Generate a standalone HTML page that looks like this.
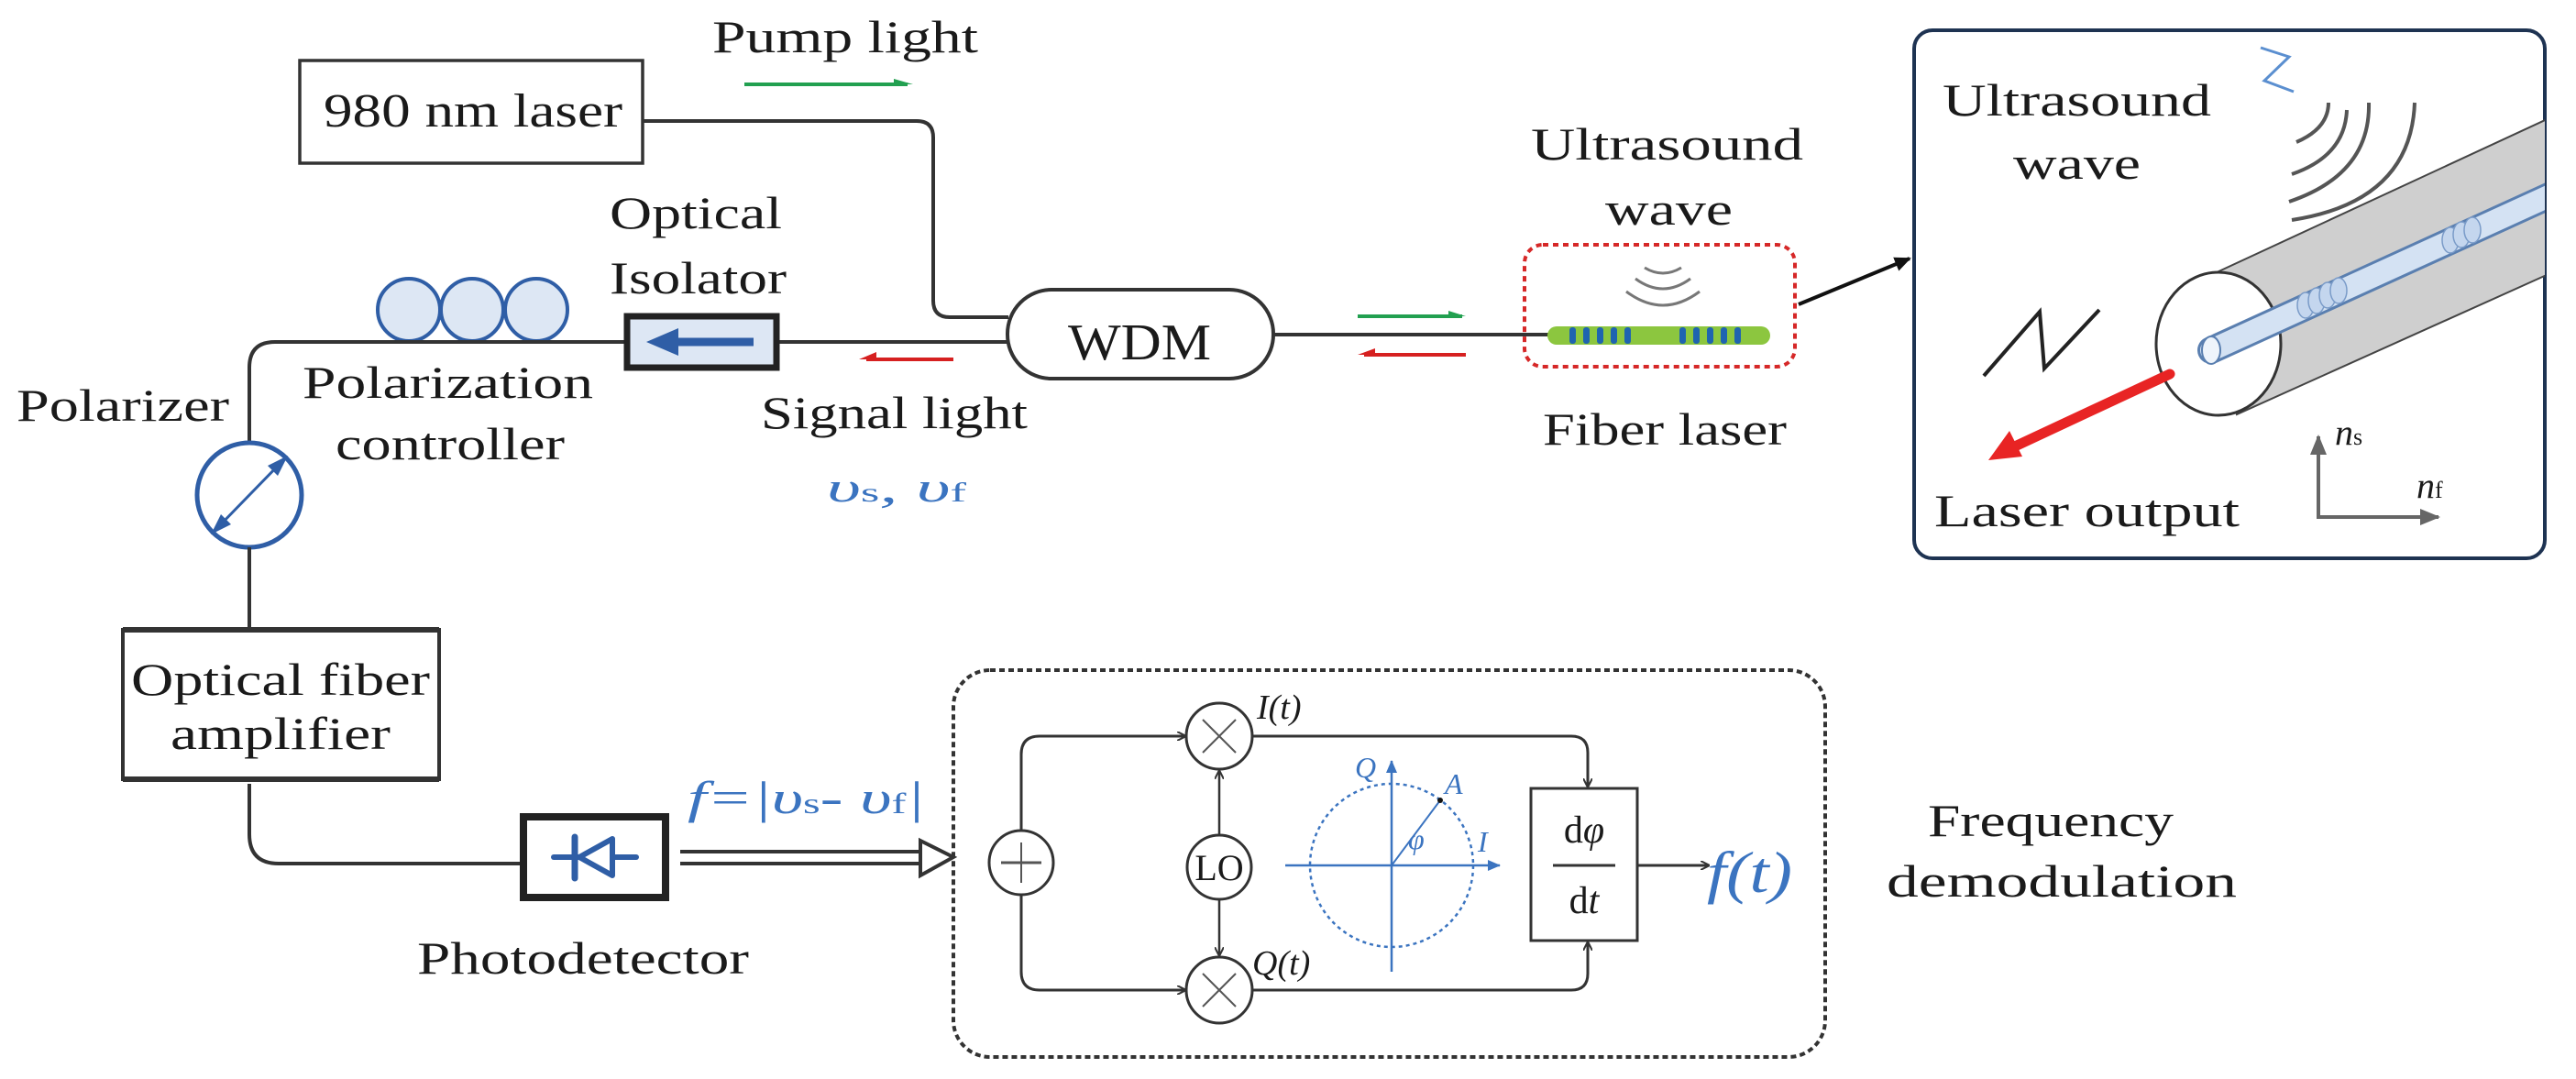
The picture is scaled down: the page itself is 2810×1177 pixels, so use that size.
<!DOCTYPE html>
<html><head><meta charset="utf-8"><style>
html,body{margin:0;padding:0;background:#fff}
svg{display:block}
text{font-family:"Liberation Serif",serif;fill:#1a1a1a}
.b{fill:#3b74c0}
</style></head><body>
<svg width="2810" height="1177" viewBox="0 0 2810 1177" xmlns="http://www.w3.org/2000/svg">
<defs>
<marker id="ah" markerWidth="10" markerHeight="10" refX="9" refY="5" orient="auto" markerUnits="userSpaceOnUse"><path d="M0,0 L10,5 L0,10" fill="none" stroke="#333" stroke-width="2"/></marker>
<marker id="ahk" markerWidth="18" markerHeight="16" refX="16" refY="8" orient="auto" markerUnits="userSpaceOnUse"><path d="M0,0 L18,8 L0,16 Z" fill="#111"/></marker>
<marker id="ahg" markerWidth="22" markerHeight="18" refX="20" refY="9" orient="auto" markerUnits="userSpaceOnUse"><path d="M0,0 L22,9 L0,18 Z" fill="#666"/></marker>
<marker id="ahb" markerWidth="14" markerHeight="12" refX="13" refY="6" orient="auto" markerUnits="userSpaceOnUse"><path d="M0,0 L14,6 L0,12 Z" fill="#3b74c0"/></marker>
<clipPath id="pc"><rect x="2088" y="33" width="688" height="576" rx="20"/></clipPath>
</defs>

<!-- top texts -->
<text x="777" y="57" font-size="50" textLength="290" lengthAdjust="spacingAndGlyphs">Pump light</text>
<line x1="812" y1="92" x2="990" y2="92" stroke="#22a050" stroke-width="4"/>
<path d="M975,86 L996,92 L975,92Z" fill="#22a050"/>

<rect x="327" y="66" width="374" height="112" fill="#fff" stroke="#333" stroke-width="3.5"/>
<text x="353" y="138" font-size="52" textLength="326" lengthAdjust="spacingAndGlyphs">980 nm laser</text>

<path d="M701,132 L1000,132 Q1018,132 1018,150 L1018,328 Q1018,346 1036,346 L1100,346" fill="none" stroke="#333" stroke-width="4"/>

<!-- WDM -->
<rect x="1099" y="316" width="290" height="97" rx="48" fill="#fff" stroke="#333" stroke-width="4"/>
<text x="1165" y="392" font-size="56" textLength="156" lengthAdjust="spacingAndGlyphs">WDM</text>

<!-- line WDM to isolator and on -->
<line x1="848" y1="373" x2="1099" y2="373" stroke="#333" stroke-width="4"/>
<path d="M683,373 L300,373 Q272,373 272,401 L272,483" fill="none" stroke="#333" stroke-width="4"/>

<!-- polarization controller -->
<g fill="#dde7f4" stroke="#2f5ea6" stroke-width="4">
<circle cx="446" cy="338" r="34"/><circle cx="515" cy="338" r="34"/><circle cx="585" cy="338" r="34"/>
</g>
<line x1="400" y1="373" x2="683" y2="373" stroke="#333" stroke-width="4"/>

<!-- isolator -->
<rect x="684" y="345" width="163" height="56" fill="#dde7f4" stroke="#222" stroke-width="7"/>
<line x1="822" y1="373" x2="735" y2="373" stroke="#2f5ea6" stroke-width="9"/>
<path d="M705,373 L740,358 L740,388Z" fill="#2f5ea6"/>

<text x="665" y="249" font-size="50" textLength="188" lengthAdjust="spacingAndGlyphs">Optical</text>
<text x="665" y="320" font-size="50" textLength="193" lengthAdjust="spacingAndGlyphs">Isolator</text>
<text x="330" y="434" font-size="50" textLength="317" lengthAdjust="spacingAndGlyphs">Polarization</text>
<text x="366" y="501" font-size="50" textLength="250" lengthAdjust="spacingAndGlyphs">controller</text>
<text x="18" y="459" font-size="50" textLength="232" lengthAdjust="spacingAndGlyphs">Polarizer</text>
<text x="830" y="467" font-size="50" textLength="291" lengthAdjust="spacingAndGlyphs">Signal light</text>

<line x1="945" y1="392" x2="1040" y2="392" stroke="#d62020" stroke-width="4"/>
<path d="M937,392 L956,384 L956,392Z" fill="#d62020"/>

<text x="902" y="547" font-size="46" font-style="italic" class="b" textLength="152" lengthAdjust="spacingAndGlyphs">υ<tspan font-size="30" font-style="normal">s</tspan>,  υ<tspan font-size="30" font-style="normal">f</tspan></text>

<!-- polarizer -->
<circle cx="272" cy="540" r="57" fill="#fff" stroke="#2f5ea6" stroke-width="5"/>
<line x1="236" y1="577" x2="308" y2="503" stroke="#2f5ea6" stroke-width="3"/>
<path d="M314,497 L292,508 L303,519Z" fill="#2f5ea6"/>
<path d="M230,583 L241,561 L252,572Z" fill="#2f5ea6"/>
<line x1="272" y1="597" x2="272" y2="687" stroke="#333" stroke-width="4"/>

<!-- amplifier -->
<rect x="134" y="687" width="345" height="163" fill="#fff" stroke="#333" stroke-width="4"/>
<line x1="134" y1="687" x2="479" y2="687" stroke="#333" stroke-width="6"/>
<line x1="134" y1="850" x2="479" y2="850" stroke="#333" stroke-width="6"/>
<text x="143" y="758" font-size="50" textLength="326" lengthAdjust="spacingAndGlyphs">Optical fiber</text>
<text x="186" y="817" font-size="50" textLength="240" lengthAdjust="spacingAndGlyphs">amplifier</text>

<path d="M272,855 L272,910 Q272,942 304,942 L568,942" fill="none" stroke="#333" stroke-width="4"/>

<!-- photodetector -->
<rect x="571" y="891" width="155" height="88" fill="#fff" stroke="#222" stroke-width="8"/>
<line x1="604" y1="935" x2="694" y2="935" stroke="#2f5ea6" stroke-width="6" stroke-linecap="round"/>
<line x1="627" y1="913" x2="627" y2="958" stroke="#2f5ea6" stroke-width="7" stroke-linecap="round"/>
<path d="M632,935 L668,915 L668,955Z" fill="#fff" stroke="#2f5ea6" stroke-width="6" stroke-linejoin="round"/>
<text x="455" y="1062" font-size="50" textLength="362" lengthAdjust="spacingAndGlyphs">Photodetector</text>

<!-- double arrow -->
<line x1="742" y1="929" x2="1010" y2="929" stroke="#333" stroke-width="4"/>
<line x1="742" y1="942" x2="1010" y2="942" stroke="#333" stroke-width="4"/>
<path d="M1004,917 L1040,935 L1004,955Z" fill="#fff" stroke="#333" stroke-width="4"/>
<text x="750" y="887" font-size="50" class="b" font-style="italic" textLength="259" lengthAdjust="spacingAndGlyphs">f=|υ<tspan font-size="32" font-style="normal">s</tspan>- υ<tspan font-size="32" font-style="normal">f</tspan>|</text>

<!-- demod box -->
<rect x="1040" y="731" width="951" height="422" rx="40" fill="none" stroke="#333" stroke-width="4" stroke-dasharray="6,4"/>
<circle cx="1114" cy="941" r="35" fill="#fff" stroke="#333" stroke-width="3"/>
<line x1="1092" y1="941" x2="1136" y2="941" stroke="#555" stroke-width="3"/>
<line x1="1114" y1="919" x2="1114" y2="963" stroke="#555" stroke-width="2"/>
<path d="M1114,906 L1114,823 Q1114,803 1134,803 L1293,803" fill="none" stroke="#333" stroke-width="3" marker-end="url(#ah)"/>
<path d="M1114,976 L1114,1060 Q1114,1080 1134,1080 L1293,1080" fill="none" stroke="#333" stroke-width="3" marker-end="url(#ah)"/>
<g fill="#fff" stroke="#333" stroke-width="3">
<circle cx="1330" cy="803" r="36"/><circle cx="1330" cy="1080" r="36"/><circle cx="1330" cy="946" r="35"/>
</g>
<g stroke="#555" stroke-width="2"><line x1="1312" y1="785" x2="1348" y2="821"/><line x1="1348" y1="785" x2="1312" y2="821"/>
<line x1="1312" y1="1062" x2="1348" y2="1098"/><line x1="1348" y1="1062" x2="1312" y2="1098"/></g>
<text x="1330" y="960" font-size="40" text-anchor="middle">LO</text>
<line x1="1330" y1="911" x2="1330" y2="841" stroke="#333" stroke-width="2.5" marker-end="url(#ah)"/>
<line x1="1330" y1="981" x2="1330" y2="1042" stroke="#333" stroke-width="2.5" marker-end="url(#ah)"/>
<text x="1371" y="784" font-size="38" font-style="italic">I(t)</text>
<text x="1366" y="1063" font-size="38" font-style="italic">Q(t)</text>
<path d="M1366,803 L1714,803 Q1732,803 1732,821 L1732,858" fill="none" stroke="#333" stroke-width="3" marker-end="url(#ah)"/>
<path d="M1366,1080 L1714,1080 Q1732,1080 1732,1062 L1732,1028" fill="none" stroke="#333" stroke-width="3" marker-end="url(#ah)"/>
<!-- constellation -->
<circle cx="1518" cy="944" r="89" fill="none" stroke="#3b74c0" stroke-width="2.5" stroke-dasharray="4,4"/>
<line x1="1402" y1="944" x2="1636" y2="944" stroke="#3b74c0" stroke-width="2.5" marker-end="url(#ahb)"/>
<line x1="1518" y1="1060" x2="1518" y2="830" stroke="#3b74c0" stroke-width="2.5" marker-end="url(#ahb)"/>
<line x1="1518" y1="944" x2="1571" y2="873" stroke="#3b74c0" stroke-width="2"/>
<circle cx="1571" cy="873" r="3" fill="#111"/>
<text x="1478" y="848" font-size="32" font-style="italic" class="b">Q</text>
<text x="1576" y="866" font-size="32" font-style="italic" class="b">A</text>
<text x="1536" y="926" font-size="32" font-style="italic" class="b">φ</text>
<text x="1612" y="929" font-size="32" font-style="italic" class="b">I</text>
<rect x="1670" y="860" width="116" height="166" fill="#fff" stroke="#333" stroke-width="3"/>
<text x="1728" y="919" font-size="42" text-anchor="middle">d<tspan font-style="italic">φ</tspan></text>
<line x1="1694" y1="944" x2="1762" y2="944" stroke="#333" stroke-width="3"/>
<text x="1728" y="996" font-size="42" text-anchor="middle">d<tspan font-style="italic">t</tspan></text>
<line x1="1786" y1="944" x2="1864" y2="944" stroke="#333" stroke-width="3" marker-end="url(#ah)"/>
<text x="1862" y="973" font-size="64" class="b" font-style="italic" textLength="93" lengthAdjust="spacingAndGlyphs">f(t)</text>

<text x="2103" y="912" font-size="50" textLength="268" lengthAdjust="spacingAndGlyphs">Frequency</text>
<text x="2058" y="978" font-size="50" textLength="382" lengthAdjust="spacingAndGlyphs">demodulation</text>

<!-- WDM to fiber laser -->
<line x1="1389" y1="365" x2="1690" y2="365" stroke="#333" stroke-width="4"/>
<line x1="1481" y1="345" x2="1595" y2="345" stroke="#22a050" stroke-width="4"/>
<path d="M1580,339 L1599,345 L1580,345Z" fill="#22a050"/>
<line x1="1488" y1="387" x2="1599" y2="387" stroke="#d62020" stroke-width="4"/>
<path d="M1481,387 L1500,380 L1500,387Z" fill="#d62020"/>

<text x="1670" y="174" font-size="50" textLength="297" lengthAdjust="spacingAndGlyphs">Ultrasound</text>
<text x="1751" y="245" font-size="50" textLength="139" lengthAdjust="spacingAndGlyphs">wave</text>
<text x="1683" y="485" font-size="50" textLength="266" lengthAdjust="spacingAndGlyphs">Fiber laser</text>
<rect x="1663" y="267" width="295" height="133" rx="20" fill="none" stroke="#d62828" stroke-width="4" stroke-dasharray="6,5"/>
<g fill="none" stroke="#777" stroke-width="3">
<path d="M1794,292 Q1814,304 1834,292"/>
<path d="M1784,304 Q1814,326 1844,304"/>
<path d="M1774,318 Q1814,348 1854,318"/>
</g>
<rect x="1688" y="356" width="243" height="20" rx="10" fill="#8cc63f"/>
<g fill="#1f64b0">
<rect x="1712" y="357" width="7" height="18" rx="3"/><rect x="1727" y="357" width="7" height="18" rx="3"/><rect x="1742" y="357" width="7" height="18" rx="3"/><rect x="1757" y="357" width="7" height="18" rx="3"/><rect x="1772" y="357" width="7" height="18" rx="3"/>
<rect x="1832" y="357" width="7" height="18" rx="3"/><rect x="1847" y="357" width="7" height="18" rx="3"/><rect x="1862" y="357" width="7" height="18" rx="3"/><rect x="1877" y="357" width="7" height="18" rx="3"/><rect x="1892" y="357" width="7" height="18" rx="3"/>
</g>
<line x1="1962" y1="332" x2="2083" y2="282" stroke="#111" stroke-width="4" marker-end="url(#ahk)"/>

<!-- right panel -->
<rect x="2088" y="33" width="688" height="576" rx="20" fill="#fff" stroke="#1e3352" stroke-width="4"/>
<g clip-path="url(#pc)">
<path d="M2416,298 L2800,120 L2800,290 L2440,452 Z" fill="#cfcfcf" stroke="#444" stroke-width="2"/>
<ellipse cx="2420" cy="375" rx="68" ry="78" fill="#fff" stroke="#333" stroke-width="3"/>
<line x1="2412" y1="382" x2="2800" y2="205" stroke="#5a7fb0" stroke-width="30" stroke-linecap="round"/>
<line x1="2412" y1="382" x2="2800" y2="205" stroke="#d4e2f3" stroke-width="24" stroke-linecap="round"/>
<ellipse cx="2412" cy="382" rx="10" ry="15" fill="#eef4fb" stroke="#5a7fb0" stroke-width="2"/>
<g fill="#c4d6ee" stroke="#7a9bc8" stroke-width="1.5">
<ellipse cx="2515" cy="333" rx="9" ry="14"/><ellipse cx="2527" cy="328" rx="9" ry="14"/><ellipse cx="2539" cy="322" rx="9" ry="14"/><ellipse cx="2551" cy="317" rx="9" ry="14"/>
<ellipse cx="2673" cy="262" rx="9" ry="14"/><ellipse cx="2685" cy="256" rx="9" ry="14"/><ellipse cx="2697" cy="251" rx="9" ry="14"/>
</g>
</g>
<g fill="none" stroke="#555" stroke-width="4">
<path d="M2540,112 Q2540,140 2505,155"/>
<path d="M2560,120 Q2558,170 2500,190"/>
<path d="M2584,112 Q2586,190 2497,220"/>
<path d="M2634,112 Q2630,220 2500,240"/>
</g>
<path d="M2466,52 L2497,62 L2470,88 L2502,100" fill="none" stroke="#5b8fd0" stroke-width="3"/>
<path d="M2164,410 L2225,340 L2230,402 L2290,338" fill="none" stroke="#222" stroke-width="4"/>
<line x1="2367" y1="408" x2="2200" y2="486" stroke="#e82424" stroke-width="11" stroke-linecap="round"/>
<path d="M2169,502 L2192,470 L2206,498Z" fill="#e82424"/>
<text x="2119" y="126" font-size="50" textLength="293" lengthAdjust="spacingAndGlyphs">Ultrasound</text>
<text x="2196" y="195" font-size="50" textLength="139" lengthAdjust="spacingAndGlyphs">wave</text>
<text x="2110" y="574" font-size="50" textLength="333" lengthAdjust="spacingAndGlyphs">Laser output</text>
<line x1="2529" y1="566" x2="2529" y2="476" stroke="#666" stroke-width="4" marker-end="url(#ahg)"/>
<line x1="2527" y1="564" x2="2660" y2="564" stroke="#666" stroke-width="4" marker-end="url(#ahg)"/>
<text x="2547" y="485" font-size="40" font-style="italic">n<tspan font-size="26" font-style="normal">s</tspan></text>
<text x="2636" y="543" font-size="40" font-style="italic">n<tspan font-size="26" font-style="normal">f</tspan></text>
</svg>
</body></html>
